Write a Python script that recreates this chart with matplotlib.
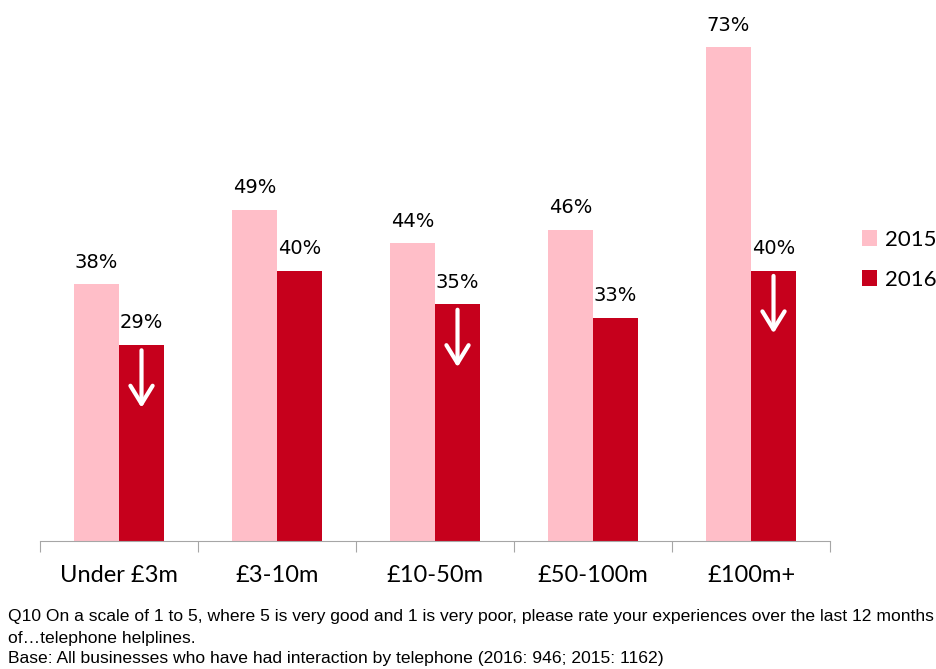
import matplotlib
matplotlib.use("Agg")
import matplotlib.pyplot as plt
import numpy as np

categories = ["Under £3m", "£3-10m", "£10-50m", "£50-100m", "£100m+"]
values_2015 = [38, 49, 44, 46, 73]
values_2016 = [29, 40, 35, 33, 40]
arrow_down = [True, False, True, False, True]
series_names = ["2015", "2016"]
footnote = ["Q10 On a scale of 1 to 5, where 5 is very good and 1 is very poor, please rate your experiences over the last 12 months",
            "of…telephone helplines.",
            "Base: All businesses who have had interaction by telephone (2016: 946; 2015: 1162)"]

c2015 = "#FFBEC8"
c2016 = "#C6001C"

fig = plt.figure(figsize=(9.37, 6.69), dpi=100)
ax = fig.add_axes([40/937, (669-541)/669, 790/937, 541/669])

x = np.arange(len(categories))
w = 0.285
ax.bar(x - w/2, values_2015, w, color=c2015, label=series_names[0])
ax.bar(x + w/2, values_2016, w, color=c2016, label=series_names[1])

ax.set_xlim(-0.5, len(categories) - 0.5)
ax.set_ylim(0, 80)
for s in ["top", "right", "left"]:
    ax.spines[s].set_visible(False)
ax.spines["bottom"].set_color("#A6A6A6")
ax.set_yticks([])
ax.set_xticks(np.arange(len(categories) + 1) - 0.5)
ax.set_xticklabels([])
ax.tick_params(axis="x", length=8, color="#A6A6A6", direction="out")
for i, c in enumerate(categories):
    ax.text(i, -3.6, c, ha="center", va="top", fontsize=17, family=["Lato", "DejaVu Sans"])

lab_font = dict(fontsize=14, family="DejaVu Sans", ha="center", va="bottom")
for i in range(len(categories)):
    ax.annotate(f"{values_2015[i]}%", (x[i] - w/2, values_2015[i]), xytext=(0, 9),
                textcoords="offset points", **lab_font)
    ax.annotate(f"{values_2016[i]}%", (x[i] + w/2, values_2016[i]), xytext=(0, 9),
                textcoords="offset points", **lab_font)
    if arrow_down[i]:
        top = values_2016[i] - 0.8
        ax.annotate("", xy=(x[i] + w/2, top - 8.5), xytext=(x[i] + w/2, top),
                    arrowprops=dict(arrowstyle="->,head_length=1.3,head_width=0.8",
                                    color="white", lw=3, shrinkA=0, shrinkB=0))

ax.legend(loc="center left", bbox_to_anchor=(1.015, 0.52), frameon=False,
          handlelength=0.7, handleheight=0.7, handletextpad=0.35,
          labelspacing=0.9, prop={"family": ["Lato", "DejaVu Sans"], "size": 16})

ys = [617, 638, 659]
for t, yy in zip(footnote, ys):
    fig.text(8/937, 1 - yy/669, t, ha="left", va="center", fontsize=12.6,
             family=["Liberation Sans Narrow", "Liberation Sans"])

fig.savefig("out.png", dpi=100)
